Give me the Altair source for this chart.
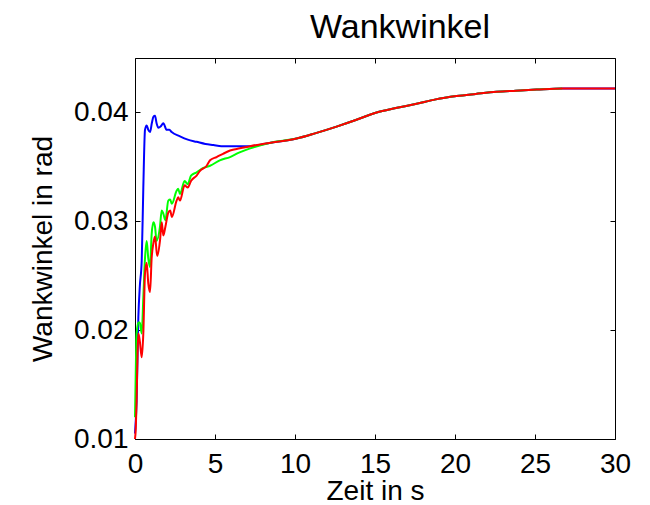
import altair as alt
import pandas as pd

# ---- data ----
# common tail (all three runs coincide after ~8 s)
tail_t = [8.4, 10.1, 11.3, 12.6, 13.8, 15.1, 16.3, 17.6, 18.8, 20.1, 21.3, 22.6, 23.8, 25.1, 26.7, 28.0, 30.0]
tail_v = [0.0372, 0.0376, 0.0381, 0.0387, 0.0393, 0.0400, 0.0404, 0.0408, 0.0412, 0.0415, 0.0417, 0.0419, 0.0420, 0.0421, 0.0422, 0.0422, 0.0422]

blue_t = [0, 0.1, 0.21, 0.3, 0.42, 0.52, 0.625, 0.73, 0.83, 0.94, 1.05, 1.15, 1.25, 1.35, 1.46, 1.6, 1.77,
          1.98, 2.15, 2.29, 2.81, 3.3, 3.85, 4.4, 4.9, 5.4, 5.94, 6.5, 7.2]
blue_v = [0.0105, 0.0135, 0.0212, 0.0240, 0.0264, 0.0331, 0.0384, 0.0388, 0.0384, 0.0382, 0.0390, 0.0396,
          0.0397, 0.0390, 0.0386, 0.0387, 0.0390, 0.0384, 0.0384, 0.0382, 0.0378, 0.0375, 0.0373, 0.0371,
          0.0370, 0.0369, 0.0369, 0.0369, 0.0369]

red_t = [0, 0.05, 0.1, 0.16, 0.21, 0.3, 0.42, 0.52, 0.625, 0.73, 0.83, 0.94, 1.04, 1.15, 1.25, 1.39, 1.56,
         1.67, 1.77, 1.9, 2.08, 2.2, 2.3, 2.6, 2.7, 2.81, 3.1, 3.3, 3.5, 3.85, 4.05, 4.48, 4.69, 5.1, 5.5,
         5.94, 6.56, 7.2]
red_v = [0.0100, 0.0110, 0.0135, 0.0180, 0.0197, 0.0190, 0.0175, 0.0197, 0.0252, 0.0262, 0.0243, 0.0235,
         0.0266, 0.0280, 0.0286, 0.0268, 0.0282, 0.0299, 0.0287, 0.0295, 0.0308, 0.0310, 0.0304, 0.0319,
         0.0322, 0.0319, 0.0333, 0.0331, 0.0337, 0.0342, 0.0346, 0.0351, 0.0356, 0.0359, 0.0362, 0.0365,
         0.0367, 0.0369]

green_t = [0, 0.08, 0.1, 0.21, 0.3, 0.42, 0.52, 0.625, 0.73, 0.83, 0.94, 1.04, 1.15, 1.25, 1.35, 1.56, 1.67,
           1.77, 1.9, 2.08, 2.2, 2.3, 2.6, 2.7, 2.81, 3.1, 3.3, 3.5, 3.85, 4.27, 4.69, 5.3, 5.94, 6.5, 7.2]
green_v = [0.0120, 0.0190, 0.0197, 0.0207, 0.0207, 0.0197, 0.0230, 0.0266, 0.0282, 0.0266, 0.0258, 0.0288,
           0.0299, 0.0295, 0.0282, 0.0295, 0.0310, 0.0307, 0.0301, 0.0319, 0.0320, 0.0316, 0.0328, 0.0330,
           0.0325, 0.0337, 0.0334, 0.0342, 0.0345, 0.0349, 0.0351, 0.0356, 0.0359, 0.0363, 0.0367]
green_end = 26.8  # green run stops here

x_ticks = [0, 5, 10, 15, 20, 25, 30]
y_ticks = [0.01, 0.02, 0.03, 0.04]

FONT = "Liberation Sans"

blue_df = pd.DataFrame({"t": blue_t + tail_t, "v": blue_v + tail_v})
red_df = pd.DataFrame({"t": red_t + tail_t, "v": red_v + tail_v})
g_tail = [(a, b) for a, b in zip(tail_t, tail_v) if a <= green_end]
green_df = pd.DataFrame({"t": green_t + [a for a, _ in g_tail], "v": green_v + [b for _, b in g_tail]})

xs = alt.Scale(domain=[0, 30], nice=False, zero=False)
ys = alt.Scale(domain=[0.01, 0.045], nice=False, zero=False)

common_axis = dict(grid=False, domain=False, tickColor="black", tickSize=5, offset=-5,
                   labelColor="black", labelFont=FONT, labelFontSize=28,
                   titleFont=FONT, titleFontSize=28, titleFontWeight="normal", titleColor="black")

x_bottom = alt.Axis(orient="bottom", values=x_ticks, title="Zeit in s", labelPadding=11,
                    titlePadding=-1, labelFlush=False, **common_axis)
y_left = alt.Axis(orient="left", values=y_ticks, format=".2f", title="Wankwinkel in rad",
                  labelPadding=7, titlePadding=16, **common_axis)
x_top = alt.Axis(orient="top", values=x_ticks, labels=False, title=None, **common_axis)
y_right = alt.Axis(orient="right", values=y_ticks, labels=False, title=None, **common_axis)

blue = alt.Chart(blue_df).mark_line(color="#0000ff", strokeWidth=2, interpolate="monotone").encode(
    x=alt.X("t:Q", scale=xs, axis=x_bottom),
    y=alt.Y("v:Q", scale=ys, axis=y_left),
)
green = alt.Chart(green_df).mark_line(color="#00ff00", strokeWidth=2, interpolate="monotone").encode(
    x=alt.X("t:Q", scale=xs, axis=None),
    y=alt.Y("v:Q", scale=ys, axis=None),
)
red = alt.Chart(red_df).mark_line(color="#ff0000", strokeWidth=2, interpolate="monotone").encode(
    x=alt.X("t:Q", scale=xs, axis=x_top),
    y=alt.Y("v:Q", scale=ys, axis=y_right),
)

chart = alt.layer(blue, green, red).resolve_axis(x="independent", y="independent").properties(
    width=480,
    height=381,
    autosize=alt.AutoSizeParams(type="none"),
    padding={"left": 127, "top": 50, "right": 27, "bottom": 66},
    title=alt.TitleParams("Wankwinkel", font=FONT, fontSize=34, fontWeight="normal", color="black",
                          anchor="middle", frame="group", baseline="alphabetic", offset=20, dx=25, dy=34),
).configure_view(stroke="black", strokeWidth=1)

chart.save("out.html", embed_options={"renderer": "svg", "actions": False})
